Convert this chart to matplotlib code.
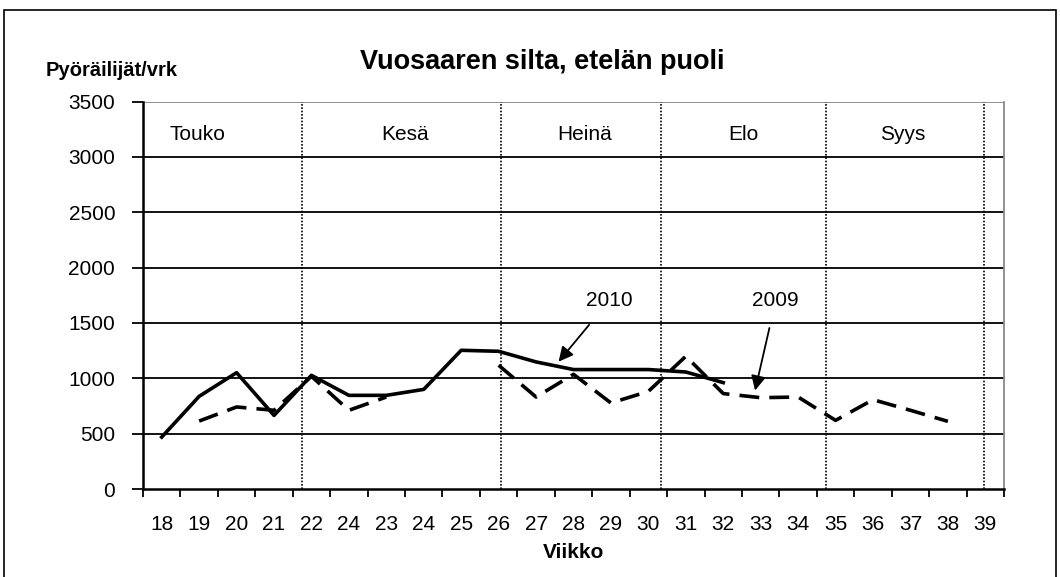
import numpy as np
import matplotlib.pyplot as plt
from matplotlib.patches import Rectangle

plt.rcParams['font.family'] = ['Liberation Sans', 'DejaVu Sans']

# Viikot (x-akselin nimiöt) ja pyöräilijämäärät
viikot = ["18", "19", "20", "21", "22", "24", "23", "24", "25", "26", "27", "28",
          "29", "30", "31", "32", "33", "34", "35", "36", "37", "38", "39"]
v2010 = [469, 837, 1051, 665, 1027, 846, 846, 900, 1253, 1244, 1148, 1079,
         1079, 1079, 1057, 961, None, None, None, None, None, None, None]
v2009 = [None, 614, 741, 711, 1018, 711, 831, None, None, 1118, 831, 1036,
         777, 882, 1199, 862, 825, 831, 620, 807, 711, 611, None]
kuukaudet = ["Touko", "Kesä", "Heinä", "Elo", "Syys"]
kk_x = [0.95, 6.5, 11.3, 15.55, 19.8]
kk_rajat = [3.75, 9.05, 13.35, 17.74, 21.96]

x = np.arange(len(viikot))
y10 = np.array([np.nan if v is None else v for v in v2010], dtype=float)
y09 = np.array([np.nan if v is None else v for v in v2009], dtype=float)

fig = plt.figure(figsize=(10.6, 5.77), dpi=100)
ax = fig.add_axes([0.1349, 0.1525, 0.8123, 0.6715])

# vaakaviivat
for g in range(500, 3500, 500):
    ax.axhline(g, color="black", lw=1.3, zorder=1)
ax.axhline(3500, color="#888888", lw=1.3, zorder=1)

# kuukausirajat
for r in kk_rajat:
    ax.axvline(r, color="black", lw=1.2, ls=(0, (1, 1)), zorder=1)

ax.plot(x, y10, color="black", lw=2.6, zorder=3)
ax.plot(x, y09, color="black", lw=2.6, ls=(0, (5.5, 2.8)), zorder=3)

for nimi, kx in zip(kuukaudet, kk_x):
    ax.text(kx, 3200, nimi, ha="center", va="center", fontsize=15)

ax.annotate("2010", xy=(10.6, 1150), xytext=(11.95, 1700), fontsize=15,
            ha="center", va="center",
            arrowprops=dict(arrowstyle="-|>", color="black", lw=1.3,
                            mutation_scale=22, shrinkA=11, shrinkB=0))
ax.annotate("2009", xy=(15.85, 890), xytext=(16.4, 1700), fontsize=15,
            ha="center", va="center",
            arrowprops=dict(arrowstyle="-|>", color="black", lw=1.3,
                            mutation_scale=22, shrinkA=11, shrinkB=0))

ax.set_xlim(-0.5, len(viikot) - 0.5)
ax.set_ylim(0, 3500)
ax.set_yticks(range(0, 3501, 500))
ax.set_xticks(x)
ax.set_xticklabels(viikot)
ax.set_xticks(np.arange(-0.5, len(viikot)), minor=True)
ax.tick_params(axis="x", which="major", length=0, labelsize=15, pad=19)
ax.tick_params(axis="x", which="minor", length=6, width=1.3, direction="out")
ax.tick_params(axis="y", length=8, width=1.3, labelsize=15, pad=12)

for s in ["left", "bottom"]:
    ax.spines[s].set_linewidth(1.8)
ax.spines["top"].set_visible(False)
ax.spines["right"].set_color("#888888")
ax.spines["right"].set_linewidth(1.3)

ax.set_xlabel("Viikko", fontsize=15, fontweight="bold", labelpad=6)

fig.text(0.512, 0.893, "Vuosaaren silta, etelän puoli", ha="center", va="center",
         fontsize=19.5, fontweight="bold")
fig.text(0.043, 0.877, "Pyöräilijät/vrk", ha="left", va="center",
         fontsize=14.5, fontweight="bold")

fig.patches.append(Rectangle((0.004, -0.1), 0.992, 1.083, transform=fig.transFigure,
                             fill=False, edgecolor="black", lw=1.2))

fig.savefig("out.png", dpi=100)
